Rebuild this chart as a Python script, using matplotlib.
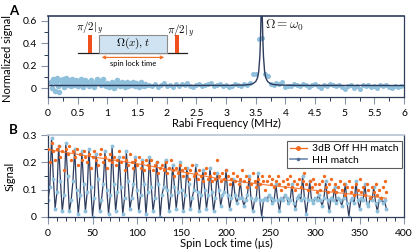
import numpy as np
import matplotlib
matplotlib.use("Agg")
import matplotlib.pyplot as plt
from matplotlib.patches import Rectangle, FancyArrowPatch
from matplotlib.ticker import MultipleLocator, FormatStrFormatter

NAVY = "#2e3c5e"
LIGHT_BLUE = "#8fc0dc"
STEEL = "#6f8bb3"
ORANGE = "#f26a1e"
PULSE = "#f0501e"

# ---- panel A: Rabi frequency scan ----
freq_dense = np.linspace(0.05, 1.65, 81)
sig_dense = [
    0.06, 0.00, 0.08, -0.02, 0.05, 0.09, 0.02, -0.03, 0.07, 0.04,
    0.08, 0.01, 0.06, 0.09, 0.03, 0.07, 0.05, 0.02, 0.08, 0.06,
    0.03, 0.07, 0.05, 0.02, 0.06, 0.08, 0.04, 0.01, 0.05, 0.07,
    0.04, 0.06, 0.02, 0.05, 0.07, 0.03, 0.01, 0.04, 0.06, 0.08,
    0.07, 0.05, 0.03, 0.06, 0.08, 0.04, 0.02, 0.05, 0.03, 0.01,
    0.04, 0.06, 0.03, 0.00, 0.02, 0.05, 0.07, 0.04, 0.02, 0.05,
    0.06, 0.03, 0.01, 0.04, 0.06, 0.02, 0.04, 0.05, 0.03, 0.06,
    0.04, 0.02, 0.05, 0.03, 0.01, 0.04, 0.06, 0.03, 0.02, 0.04, 0.03,
]
freq_sparse = np.linspace(1.70, 5.95, 86)
sig_sparse = [
    0.03, 0.02, 0.04, 0.01, 0.03, 0.05, 0.02, 0.03, 0.01, 0.04,
    0.02, 0.04, 0.03, 0.05, 0.02, 0.01, 0.03, 0.04, 0.02, 0.03,
    0.04, 0.05, 0.02, 0.03, 0.04, 0.02, 0.03, 0.01, 0.02, 0.04,
    0.03, 0.02, 0.04, 0.03, 0.05, 0.13, 0.13, 0.44, 0.45, 0.13,
    0.11, 0.04, 0.03, 0.05, 0.04, 0.06, 0.01, 0.02, 0.02, 0.04,
    0.03, 0.02, 0.04, 0.03, 0.01, 0.03, 0.04, 0.02, 0.00, 0.03,
    0.02, 0.04, 0.03, 0.02, 0.03, 0.01, -0.01, 0.02, 0.03, 0.00,
    0.02, -0.01, 0.03, 0.02, 0.03, 0.01, 0.02, 0.00, 0.03, 0.02,
    0.03, 0.01, 0.00, 0.02, 0.01, 0.02,
]
fit_freq = [0.03, 3.0, 3.3, 3.4, 3.45, 3.5, 3.53, 3.55, 3.57, 3.58, 3.59, 3.6,
            3.61, 3.62, 3.63, 3.65, 3.67, 3.7, 3.75, 3.8, 3.9, 4.2, 6.0]
fit_sig = [0.025, 0.026, 0.029, 0.034, 0.041, 0.060, 0.093, 0.147, 0.287, 0.436, 0.646, 0.80,
           0.646, 0.436, 0.287, 0.147, 0.093, 0.060, 0.041, 0.034, 0.029, 0.026, 0.025]

# ---- panel B: spin lock decay ----
t_spin = np.linspace(0, 380, 191)
hh_match = [
    0.06, 0.11, 0.29, 0.14, 0.03, 0.09, 0.26, 0.13, 0.02, 0.08,
    0.27, 0.15, 0.02, 0.06, 0.13, 0.25, 0.10, 0.01, 0.08, 0.24,
    0.12, 0.02, 0.09, 0.25, 0.11, 0.00, 0.07, 0.23, 0.14, 0.02,
    0.06, 0.12, 0.24, 0.10, 0.01, 0.08, 0.26, 0.12, 0.02, 0.09,
    0.22, 0.11, 0.01, 0.07, 0.24, 0.13, 0.03, 0.07, 0.12, 0.22,
    0.10, 0.02, 0.08, 0.21, 0.12, 0.01, 0.09, 0.22, 0.11, 0.02,
    0.07, 0.20, 0.12, 0.00, 0.08, 0.11, 0.21, 0.10, 0.02, 0.08,
    0.19, 0.11, 0.03, 0.09, 0.20, 0.10, 0.02, 0.08, 0.18, 0.12,
    0.03, 0.07, 0.10, 0.19, 0.09, 0.02, 0.08, 0.17, 0.10, 0.03,
    0.08, 0.18, 0.09, 0.02, 0.07, 0.16, 0.10, 0.04, 0.08, 0.09,
    0.17, 0.08, 0.03, 0.07, 0.14, 0.08, 0.05, 0.07, 0.13, 0.07,
    0.04, 0.06, 0.08, 0.15, 0.07, 0.02, 0.06, 0.07, 0.16, 0.06,
    0.00, 0.06, 0.07, 0.06, 0.08, 0.07, 0.05, 0.06, 0.12, 0.06,
    0.02, 0.07, 0.06, 0.08, 0.07, 0.05, 0.06, 0.12, 0.05, 0.03,
    0.07, 0.08, 0.06, 0.15, 0.07, 0.01, 0.06, 0.13, 0.06, 0.05,
    0.07, 0.06, 0.08, 0.06, 0.04, 0.07, 0.13, 0.06, 0.02, 0.07,
    0.06, 0.11, 0.05, 0.07, 0.06, 0.04, 0.07, 0.12, 0.05, 0.00,
    0.06, 0.07, 0.05, 0.13, 0.06, 0.03, 0.07, 0.06, 0.12, 0.05,
    0.04, 0.07, 0.06, 0.11, 0.05, 0.02, 0.06, 0.07, 0.05, 0.06, 0.03,
]
off_match = [
    0.25, 0.20, 0.27, 0.24, 0.21, 0.25, 0.26, 0.22, 0.24, 0.17,
    0.25, 0.23, 0.26, 0.21, 0.24, 0.22, 0.25, 0.19, 0.23, 0.21,
    0.24, 0.22, 0.20, 0.23, 0.18, 0.22, 0.24, 0.21, 0.19, 0.23,
    0.25, 0.20, 0.22, 0.18, 0.21, 0.23, 0.20, 0.22, 0.19, 0.21,
    0.24, 0.20, 0.22, 0.17, 0.21, 0.19, 0.23, 0.20, 0.18, 0.21,
    0.19, 0.22, 0.18, 0.20, 0.17, 0.21, 0.19, 0.18, 0.21, 0.17,
    0.19, 0.20, 0.16, 0.18, 0.19, 0.17, 0.20, 0.16, 0.18, 0.21,
    0.17, 0.15, 0.18, 0.16, 0.19, 0.17, 0.15, 0.18, 0.16, 0.14,
    0.17, 0.19, 0.15, 0.16, 0.14, 0.17, 0.15, 0.13, 0.16, 0.18,
    0.14, 0.15, 0.13, 0.16, 0.14, 0.21, 0.15, 0.13, 0.16, 0.14,
    0.17, 0.15, 0.12, 0.14, 0.16, 0.13, 0.15, 0.12, 0.14, 0.17,
    0.13, 0.15, 0.11, 0.14, 0.12, 0.16, 0.13, 0.11, 0.14, 0.12,
    0.15, 0.13, 0.10, 0.13, 0.15, 0.12, 0.14, 0.11, 0.13, 0.15,
    0.12, 0.10, 0.13, 0.11, 0.14, 0.12, 0.15, 0.11, 0.13, 0.10,
    0.12, 0.14, 0.11, 0.13, 0.16, 0.12, 0.10, 0.13, 0.11, 0.14,
    0.12, 0.09, 0.12, 0.10, 0.13, 0.15, 0.11, 0.09, 0.12, 0.14,
    0.10, 0.12, 0.09, 0.11, 0.13, 0.10, 0.12, 0.08, 0.11, 0.13,
    0.09, 0.11, 0.08, 0.12, 0.10, 0.14, 0.09, 0.11, 0.08, 0.12,
    0.10, 0.07, 0.11, 0.09, 0.12, 0.08, 0.10, 0.07, 0.11, 0.13, 0.09,
]
off_fit_t = [0, 50, 100, 150, 200, 250, 300, 350, 380]
off_fit_sig = [0.247, 0.220, 0.195, 0.165, 0.135, 0.115, 0.097, 0.080, 0.068]

plt.rcParams["font.family"] = ["Lato", "DejaVu Sans"]
plt.rcParams["mathtext.fontset"] = "cm"
plt.rcParams["font.size"] = 8

fig = plt.figure(figsize=(4.15, 2.52), dpi=100)
axA = fig.add_axes([0.1157, 0.616, 0.858, 0.3214])
axB = fig.add_axes([0.1157, 0.140, 0.858, 0.324])


def style_axis(ax, top_color):
    for side in ("left", "bottom", "right"):
        ax.spines[side].set_color(NAVY)
        ax.spines[side].set_linewidth(0.9)
    ax.spines["top"].set_color(top_color)
    ax.spines["top"].set_linewidth(1.2)
    ax.tick_params(which="major", direction="out", length=5, width=0.8,
                   color="#8a96a8", labelsize=7.5, top=False, right=False)
    ax.tick_params(axis="x", which="major", pad=4)
    ax.tick_params(axis="y", which="major", pad=3)
    ax.tick_params(which="minor", direction="out", length=3, width=0.7,
                   color=NAVY, top=False, right=False)
    ax.xaxis.set_major_formatter(FormatStrFormatter("%g"))
    ax.yaxis.set_major_formatter(FormatStrFormatter("%g"))


# panel A
axA.plot(freq_dense, sig_dense, "o", ms=4.0, color=LIGHT_BLUE, mec="none", zorder=2)
axA.plot(freq_sparse, sig_sparse, "o", ms=3.6, color=LIGHT_BLUE, mec="none", zorder=2)
axA.plot(fit_freq, fit_sig, "-", color=NAVY, lw=1.0, zorder=3)
axA.set_xlim(0, 6)
axA.set_ylim(-0.075, 0.645)
axA.xaxis.set_major_locator(MultipleLocator(0.5))
axA.xaxis.set_minor_locator(MultipleLocator(0.25))
axA.yaxis.set_major_locator(MultipleLocator(0.2))
axA.yaxis.set_minor_locator(MultipleLocator(0.1))
style_axis(axA, NAVY)
axA.set_xlabel("Rabi Frequency (MHz)", labelpad=0)
axA.set_ylabel("Normalized signal")
axA.yaxis.set_label_coords(-0.098, 0.47)
axA.text(0.61, 0.885, r"$\Omega = \omega_0$", transform=axA.transAxes,
         fontsize=9.5, va="center", ha="left", color="#222222")

# pulse sequence inset
tr = axA.transAxes
axA.plot([0.084, 0.390], [0.54, 0.54], color="#222222", lw=0.9, transform=tr)
axA.add_patch(Rectangle((0.111, 0.54), 0.012, 0.225, transform=tr,
                        facecolor=PULSE, edgecolor="none", zorder=4))
axA.add_patch(Rectangle((0.357, 0.54), 0.012, 0.225, transform=tr,
                        facecolor=PULSE, edgecolor="none", zorder=4))
axA.add_patch(Rectangle((0.143, 0.54), 0.191, 0.225, transform=tr,
                        facecolor="#cfe3f2", edgecolor="#8c8c8c", lw=0.8, zorder=4))
axA.text(0.117, 0.845, r"$\pi/2|_y$", transform=tr, ha="center", va="center", fontsize=8)
axA.text(0.371, 0.81, r"$\pi/2|_y$", transform=tr, ha="center", va="center", fontsize=8)
axA.text(0.2385, 0.655, r"$\Omega(x), t$", transform=tr, ha="center", va="center",
         fontsize=8, zorder=5)
axA.add_patch(FancyArrowPatch((0.143, 0.486), (0.334, 0.486), transform=tr,
                              arrowstyle="<->", mutation_scale=5, color=ORANGE, lw=0.8))
axA.text(0.2385, 0.41, "spin lock time", transform=tr, ha="center", va="center", fontsize=5.5)

# panel B
axB.plot(t_spin, off_match, "o", ms=2.4, color=ORANGE, mec="none", zorder=3)
axB.plot(off_fit_t, off_fit_sig, "-", color=ORANGE, lw=0.9, alpha=0.8, zorder=3)
axB.plot(t_spin, hh_match, "-", color=NAVY, lw=0.9, zorder=2)
axB.plot(t_spin, hh_match, "o", ms=2.8, color=LIGHT_BLUE, mec="none", zorder=2)
h_off = axB.plot([], [], "-o", color=ORANGE, ms=2.5, lw=0.9)[0]
h_hh = axB.plot([], [], "-o", color=STEEL, ms=2.5, lw=1.2, mfc="#4e6a96", mec="none")[0]
axB.set_xlim(0, 400)
axB.set_ylim(0, 0.3)
axB.xaxis.set_major_locator(MultipleLocator(50))
axB.xaxis.set_minor_locator(MultipleLocator(10))
axB.yaxis.set_major_locator(MultipleLocator(0.1))
axB.yaxis.set_minor_locator(MultipleLocator(0.05))
style_axis(axB, "#b8c4d2")
axB.set_xlabel("Spin Lock time (\u00b5s)", labelpad=0)
axB.set_ylabel("Signal")
axB.yaxis.set_label_coords(-0.092, 0.5)
leg = axB.legend([h_off, h_hh], ["3dB Off HH match", "HH match"], loc="upper right",
                 bbox_to_anchor=(0.993, 0.93), fontsize=7.5, frameon=True, fancybox=False,
                 handlelength=1.6, handletextpad=0.5, borderpad=0.3, labelspacing=0.2,
                 borderaxespad=0.0)
leg.get_frame().set_edgecolor("#333333")
leg.get_frame().set_linewidth(0.8)

fig.text(0.022, 0.955, "A", fontsize=9.5, fontweight="bold", va="center")
fig.text(0.022, 0.483, "B", fontsize=9.5, fontweight="bold", va="center")

fig.savefig("out.png", dpi=100)
